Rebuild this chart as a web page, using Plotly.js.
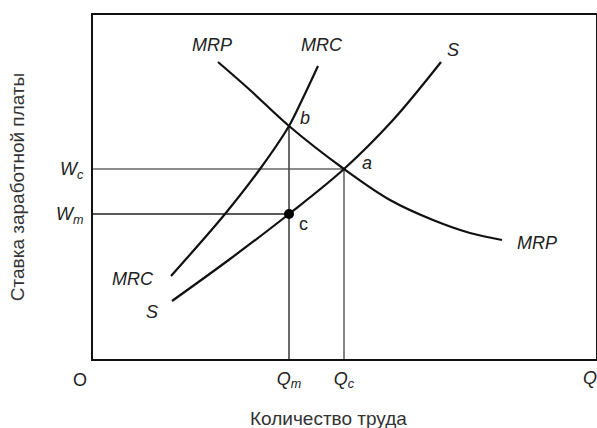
<!DOCTYPE html>
<html>
<head>
<meta charset="utf-8">
<script src="https://cdn.plot.ly/plotly-3.0.1.min.js"></script>
<style>html,body{margin:0;padding:0;background:#fff;}#chart{width:597px;height:428px;}</style>
</head>
<body>
<div id="chart"></div>
<script>
// Key levels (arbitrary units)
const Qm = 196, Qc = 251, Qmax = 503;
const Wc = 190, Wm = 145, Wb = 233, Wmax = 344;

// Curves
const mrpX = [125, 157, 196, 251, 297, 340, 377, 409];
const mrpY = [297, 269, 233, 190, 159, 139, 126, 119];
const mrcX = [78, 132, 167, 196, 209, 225];
const mrcY = [83, 145, 190, 233, 259, 293];
const sX = [79, 137, 196, 251, 300, 348];
const sY = [58, 100, 145, 190, 239, 297];

// Tick labels
const xTickVals = [Qm, Qc];
const xTickText = ['<i>Q</i><sub><i>m</i></sub>', '<i>Q</i><sub><i>c</i></sub>'];
const yTickVals = [Wm, Wc];
const yTickText = ['<i>W</i><sub><i>m</i></sub>', '<i>W</i><sub><i>c</i></sub>'];

// Curve labels: [text, x, y]
const curveLabels = [
  ['<i>MRP</i>', 119, 314],
  ['<i>MRC</i>', 229, 314],
  ['<i>S</i>', 360, 309],
  ['<i>b</i>', 212, 241],
  ['<i>a</i>', 274, 196],
  ['c', 210, 135],
  ['<i>MRP</i>', 444, 116],
  ['<i>MRC</i>', 40, 80],
  ['<i>S</i>', 59, 47]
];

const FONT = 'Liberation Sans, Arial, sans-serif';
const curveStyle = {color: '#111', width: 2.2, shape: 'spline', smoothing: 1};

const traces = [
  {x: [0, Qc], y: [Wc, Wc], mode: 'lines', line: {color: '#666', width: 1.6}},
  {x: [0, Qm], y: [Wm, Wm], mode: 'lines', line: {color: '#222', width: 1.6}},
  {x: [Qm, Qm], y: [0, Wb], mode: 'lines', line: {color: '#444', width: 1.6}},
  {x: [Qc, Qc], y: [0, Wc], mode: 'lines', line: {color: '#666', width: 1.6}},
  {x: mrpX, y: mrpY, mode: 'lines', line: curveStyle},
  {x: mrcX, y: mrcY, mode: 'lines', line: curveStyle},
  {x: sX, y: sY, mode: 'lines', line: curveStyle},
  {x: [Qm], y: [Wm], mode: 'markers', marker: {color: '#000', size: 10}}
];

const annotations = curveLabels.map(l => ({
  text: l[0], x: l[1], y: l[2], xref: 'x', yref: 'y', showarrow: false,
  font: {family: FONT, size: 18, color: '#222'}
}));
annotations.push({text: 'O', x: -0.026, y: -0.061, xref: 'paper', yref: 'paper', showarrow: false,
  xanchor: 'center', yanchor: 'middle',
  font: {family: FONT, size: 18, color: '#222'}});
annotations.push({text: '<i>Q</i>', x: 0.988, y: -0.055, xref: 'paper', yref: 'paper', showarrow: false,
  xanchor: 'center', yanchor: 'middle',
  font: {family: FONT, size: 18, color: '#222'}});
// x-axis title (placed slightly left of centre, as in the reference)
annotations.push({text: 'Количество труда', x: 0.469, y: -0.172, xref: 'paper', yref: 'paper', showarrow: false,
  xanchor: 'center', yanchor: 'middle',
  font: {family: FONT, size: 19, color: '#333'}});

const layout = {
  width: 597, height: 428,
  margin: {l: 93, r: 1, t: 15, b: 69},
  paper_bgcolor: '#fff', plot_bgcolor: '#fff',
  showlegend: false,
  font: {family: FONT, color: '#222'},
  xaxis: {
    range: [0, Qmax], showgrid: false, zeroline: false,
    showline: true, mirror: true, linecolor: '#111', linewidth: 2,
    ticks: '', tickvals: xTickVals, ticktext: xTickText,
    tickfont: {family: FONT, size: 18, color: '#222'},
    ticklabelstandoff: 2
  },
  yaxis: {
    range: [0, Wmax], showgrid: false, zeroline: false,
    showline: true, mirror: true, linecolor: '#111', linewidth: 2,
    ticks: '', tickvals: yTickVals, ticktext: yTickText,
    tickfont: {family: FONT, size: 18, color: '#222'},
    ticklabelstandoff: 4,
    title: {text: 'Ставка заработной платы', font: {family: FONT, size: 19, color: '#333'}, standoff: 26}
  },
  annotations: annotations
};

Plotly.newPlot('chart', traces, layout, {displayModeBar: false, staticPlot: true});
</script>
</body>
</html>
